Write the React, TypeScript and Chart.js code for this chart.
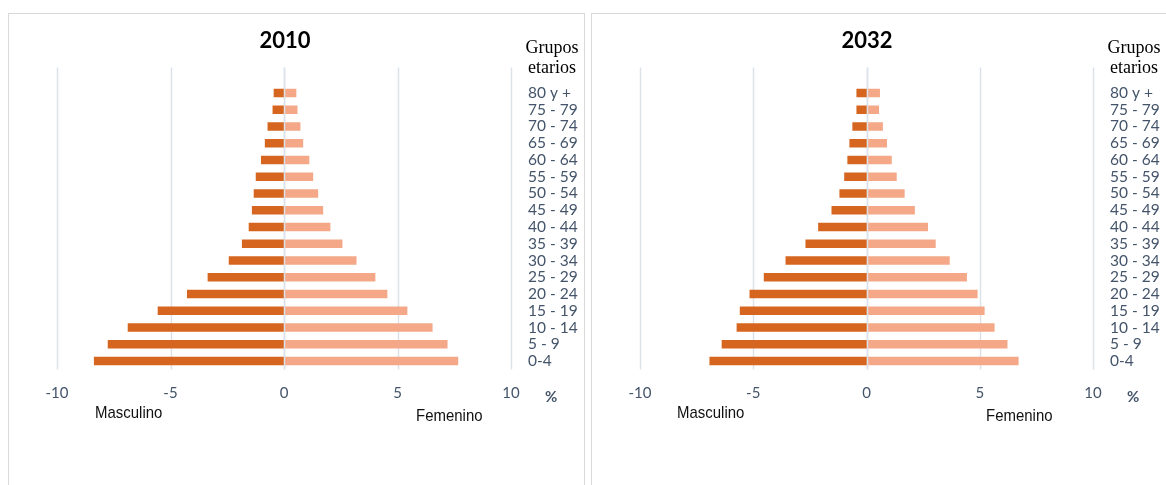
import { useEffect, useRef } from "react";
import { Chart, registerables } from "chart.js";

Chart.register(...registerables);

const ageGroups = [
  "80 y +", "75 - 79", "70 - 74", "65 - 69", "60 - 64", "55 - 59", "50 - 54",
  "45 - 49", "40 - 44", "35 - 39", "30 - 34", "25 - 29", "20 - 24", "15 - 19",
  "10 - 14", "5 - 9", "0-4",
];

const male2010 = [0.44, 0.49, 0.71, 0.83, 1.0, 1.23, 1.32, 1.4, 1.54, 1.84, 2.42, 3.35, 4.26, 5.55, 6.87, 7.75, 8.36];
const female2010 = [0.53, 0.58, 0.71, 0.83, 1.1, 1.27, 1.49, 1.71, 2.03, 2.56, 3.18, 4.01, 4.54, 5.42, 6.53, 7.19, 7.66];
const male2032 = [0.43, 0.43, 0.61, 0.74, 0.83, 0.97, 1.18, 1.53, 2.12, 2.68, 3.56, 4.52, 5.15, 5.58, 5.72, 6.38, 6.92];
const female2032 = [0.58, 0.54, 0.71, 0.89, 1.1, 1.32, 1.67, 2.12, 2.7, 3.04, 3.66, 4.42, 4.89, 5.2, 5.64, 6.21, 6.7];

const xMin = -10;
const xMax = 10;
const xStep = 5;

const MALE_COLOR = "#D6661F";
const FEMALE_COLOR = "#F4A888";
const GRID_COLOR = "#DCE2EA";
const TEXT_BLUE = "#44546A";

const W = 584;
const H = 485;

const gridPlugin = {
  id: "pyramidGrid",
  beforeDatasetsDraw(chart: any) {
    const { ctx, chartArea, scales } = chart;
    const x = scales.x;
    const top = chartArea.top - 17;
    ctx.save();
    ctx.strokeStyle = GRID_COLOR;
    ctx.lineWidth = 1.5;
    x.ticks.forEach((t: any) => {
      const px = Math.round(x.getPixelForValue(t.value)) + 0.5;
      ctx.beginPath();
      ctx.moveTo(px, top);
      ctx.lineTo(px, chartArea.bottom);
      ctx.stroke();
    });
    ctx.restore();
  },
  afterDatasetsDraw(chart: any) {
    const { ctx, chartArea, scales } = chart;
    const x = scales.x;
    const px = Math.round(x.getPixelForValue(0)) + 0.5;
    ctx.save();
    ctx.strokeStyle = GRID_COLOR;
    ctx.lineWidth = 1.5;
    ctx.beginPath();
    ctx.moveTo(px, chartArea.top - 17);
    ctx.lineTo(px, chartArea.bottom);
    ctx.stroke();
    ctx.restore();
  },
};

function Pyramid({ male, female, padLeft }: { male: number[]; female: number[]; padLeft: number }) {
  const ref = useRef<HTMLCanvasElement | null>(null);
  useEffect(() => {
    if (!ref.current) return;
    const chart = new Chart(ref.current, {
      type: "bar",
      data: {
        labels: ageGroups,
        datasets: [
          {
            label: "Masculino",
            data: male.map((v) => -v),
            backgroundColor: MALE_COLOR,
            barThickness: 8,
          },
          {
            label: "Femenino",
            data: female,
            backgroundColor: FEMALE_COLOR,
            barThickness: 8,
          },
        ],
      },
      options: {
        indexAxis: "y",
        animation: false,
        responsive: false,
        maintainAspectRatio: false,
        devicePixelRatio: 1,
        layout: { padding: { left: padLeft, top: 84.6, right: 0, bottom: 75.6 } },
        plugins: {
          legend: { display: false },
          tooltip: { enabled: false },
          title: { display: false },
        },
        scales: {
          x: {
            stacked: true,
            min: xMin,
            max: xMax,
            grid: { display: false, drawTicks: false },
            border: { display: false },
            ticks: {
              stepSize: xStep,
              padding: 15,
              color: TEXT_BLUE,
              font: { family: "Lato", size: 15 },
            },
            afterFit: (s: any) => {
              s.height = 40;
            },
          },
          y: {
            stacked: true,
            position: "right",
            grid: { display: false, drawTicks: false },
            border: { display: false },
            ticks: {
              autoSkip: false,
              padding: 17,
              color: TEXT_BLUE,
              font: { family: "Lato", size: 15.5 },
            },
            afterFit: (s: any) => {
              s.width = 73;
            },
          },
        },
      } as any,
      plugins: [gridPlugin],
    });
    return () => chart.destroy();
  }, [male, female, padLeft]);
  return <canvas ref={ref} width={W} height={H} style={{ width: W, height: H, display: "block" }} />;
}

const abs = (left: number, top: number, extra: any = {}) => ({
  position: "absolute" as const,
  left,
  top,
  whiteSpace: "nowrap" as const,
  ...extra,
});

const narrow = {
  fontFamily: "'Liberation Sans Narrow', 'Arial Narrow', 'Liberation Sans', sans-serif",
  fontSize: 17,
  lineHeight: "22px",
  color: "#111",
  transform: "scaleX(0.88)",
  transformOrigin: "left center",
};

function Overlay({ offset, title, femX }: { offset: number; title: string; femX: number }) {
  return (
    <>
      <div
        style={abs(offset + 185, 26, {
          width: 200,
          textAlign: "center",
          fontFamily: "Lato",
          fontWeight: 700,
          fontSize: 22,
          lineHeight: "28px",
          color: "#000",
        })}
      >
        {title}
      </div>
      <div
        style={abs(offset + 512, 37, {
          width: 80,
          textAlign: "center",
          fontFamily: "'Liberation Serif', serif",
          fontSize: 18,
          lineHeight: "20px",
          color: "#000",
        })}
      >
        Grupos
        <br />
        etarios
      </div>
      <div
        style={abs(offset + 545, 386, {
          fontFamily: "Lato",
          fontWeight: 700,
          fontSize: 15,
          lineHeight: "20px",
          color: TEXT_BLUE,
        })}
      >
        %
      </div>
      <div style={abs(offset + 95, 402, narrow)}>Masculino</div>
      <div style={abs(offset + femX, 405, narrow)}>Femenino</div>
    </>
  );
}

export default function App() {
  return (
    <div
      style={{
        position: "fixed",
        left: 0,
        top: 0,
        width: 1166,
        height: 485,
        overflow: "hidden",
        background: "#fff",
      }}
    >
      <div style={{ position: "absolute", left: 8, top: 13, width: 575, height: 500, border: "1px solid #D9D9D9" }} />
      <div style={{ position: "absolute", left: 591, top: 13, width: 600, height: 500, border: "1px solid #D9D9D9" }} />
      <div style={{ position: "absolute", left: 0, top: 0 }}>
        <Pyramid male={male2010} female={female2010} padLeft={57} />
      </div>
      <div style={{ position: "absolute", left: 582, top: 0 }}>
        <Pyramid male={male2032} female={female2032} padLeft={58} />
      </div>
      <Overlay offset={0} title="2010" femX={416} />
      <Overlay offset={582} title="2032" femX={404} />
    </div>
  );
}
